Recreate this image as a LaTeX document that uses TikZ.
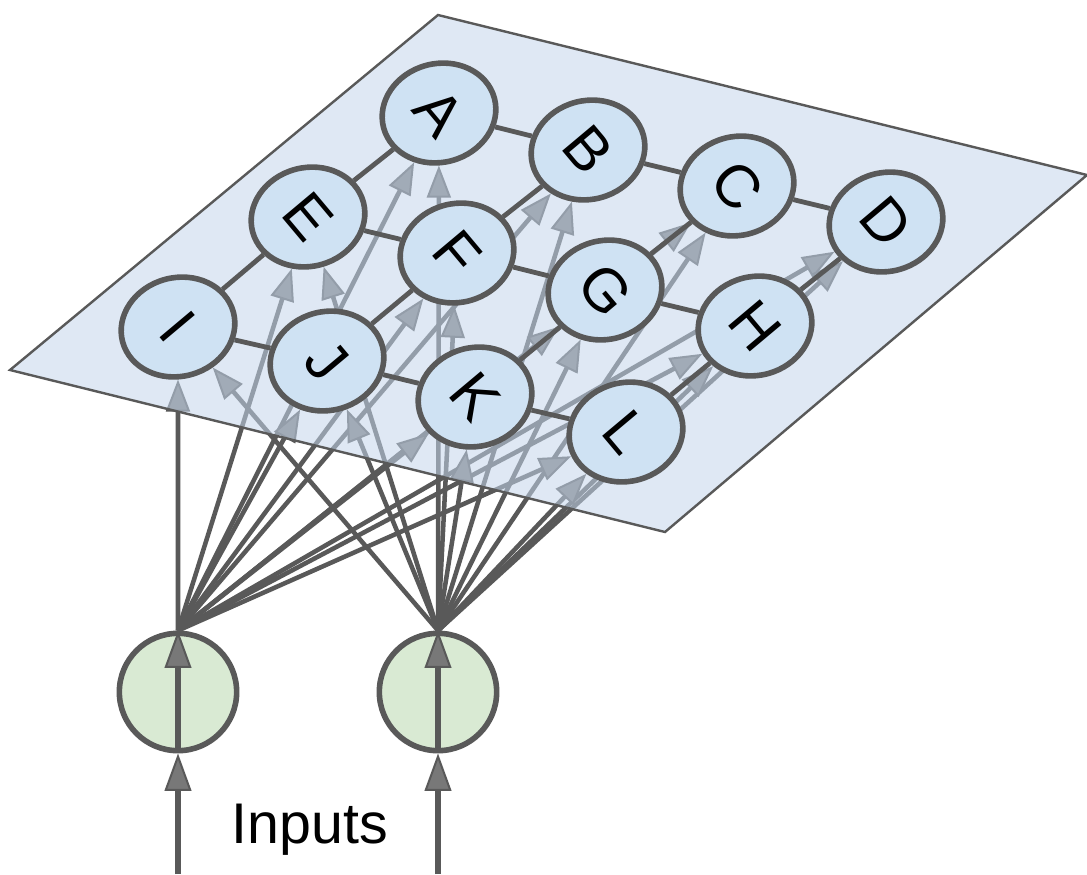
\documentclass[tikz,border=0pt]{standalone}
\usepackage{fontspec}
\setmainfont{Liberation Sans}
\usetikzlibrary{arrows.meta,shapes.geometric}
\pgfdeclarelayer{bg}
\pgfdeclarelayer{mid}
\pgfsetlayers{bg,mid,main}
\definecolor{lc}{RGB}{89,89,89}
\definecolor{planefill}{RGB}{196,213,235}
\definecolor{nodefill}{RGB}{207,226,243}
\definecolor{greenfill}{RGB}{217,234,211}
\definecolor{tipfill}{RGB}{120,120,120}
\begin{document}
\begin{tikzpicture}[x=0.75pt,y=-0.75pt,
  unit/.style={ellipse, draw=lc, line width=4.2pt, fill=nodefill,
    minimum width=86pt, minimum height=74pt, inner sep=0pt, rotate=15,
    font=\fontsize{45}{45}\selectfont},
  inp/.style={circle, draw=lc, line width=4.2pt, fill=greenfill,
    minimum size=88pt, inner sep=0pt},
  fan/.style={draw=lc, line width=3.4pt,
    -{Triangle[length=24pt,width=18pt,line width=1.5pt,fill=tipfill]}},
  feed/.style={draw=lc, line width=4.8pt,
    -{Triangle[length=28pt,width=20pt,line width=1.5pt,fill=tipfill]}},
  gridline/.style={draw=lc, line width=3.6pt},
  plane/.style={draw=lc, line width=1.8pt, fill=planefill, fill opacity=0.55}
]
\useasboundingbox (0,0) rectangle (1087,874);

% units
\foreach \n/\x/\y in {A/439/113, B/588/150, C/737/186, D/886/222,
                      E/308/217, F/457/253, G/605/290, H/755/326,
                      I/178/327, J/327/361, K/475/397, L/626/432}
  \node[unit] (\n) at (\x,\y) {\rotatebox{-65}{\n}};

% grid lines
\foreach \a/\b in {A/B,B/C,C/D,E/F,F/G,G/H,I/J,J/K,K/L,
                   A/E,E/I,B/F,F/J,C/G,G/K,D/H,H/L}
  \draw[gridline] (\a) -- (\b);

% input neurons
\node[inp] (in1) at (178,692) {};
\node[inp] (in2) at (438,692) {};
\coordinate (s1) at (178,874);
\coordinate (s2) at (438,874);
\draw[feed] (s1) -- (in1.south);
\draw[feed] (s2) -- (in2.south);
\draw[feed] (in1.south) -- (in1.north);
\draw[feed] (in2.south) -- (in2.north);

\node[anchor=base, font=\fontsize{43}{43}\selectfont] (lbl) at (310,843) {Inputs};

% plane
\begin{pgfonlayer}{mid}
  \coordinate (pT) at (438,15);
  \coordinate (pR) at (1087,175);
  \coordinate (pB) at (665,532);
  \coordinate (pL) at (10,370);
  \path[plane] (pT) -- (pR) -- (pB) -- (pL) -- cycle;
\end{pgfonlayer}

% connections
\begin{pgfonlayer}{bg}
  \foreach \n in {A,B,C,D,E,F,G,H,I,J,K,L} {
    \draw[fan] (in1.north) -- (\n);
    \draw[fan] (in2.north) -- (\n);
  }
\end{pgfonlayer}
\end{tikzpicture}
\end{document}
